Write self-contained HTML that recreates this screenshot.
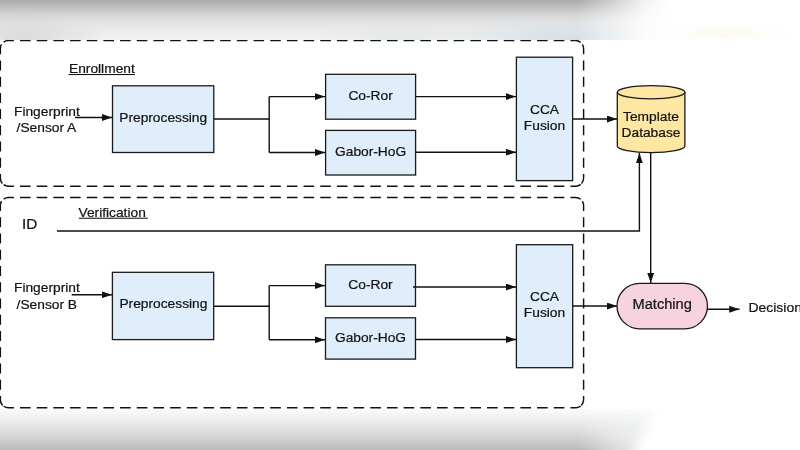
<!DOCTYPE html>
<html><head><meta charset="utf-8">
<style>
html,body{margin:0;padding:0;background:#fff;}
body{width:800px;height:450px;overflow:hidden;position:relative;font-family:"Liberation Sans",sans-serif;}
.band{position:absolute;left:0;width:800px;}
#top{top:0;height:40px;background:radial-gradient(ellipse 85px 26px at 25px 40px,rgba(160,160,160,.28),rgba(160,160,160,0)),radial-gradient(ellipse 130px 24px at 570px 40px,rgba(196,214,226,.65),rgba(196,214,226,0)),radial-gradient(ellipse 90px 18px at 400px 40px,rgba(205,218,226,.35),rgba(205,218,226,0)),linear-gradient(180deg,#ababab 0px,#c2c2c2 8px,#d6d6d6 15px,#e3e3e3 22px,#ebebeb 29px,#eeefef 36px,#f3f3f3 40px);-webkit-mask-image:linear-gradient(90deg,#000 0px,#000 578px,rgba(0,0,0,.55) 615px,rgba(0,0,0,.15) 645px,rgba(0,0,0,0) 670px);}
#topr{position:absolute;top:16px;left:650px;width:150px;height:23px;background:radial-gradient(ellipse 70px 13px at 75px 18px,rgba(250,240,215,.35),rgba(250,240,215,0));}
#bot{top:409px;height:41px;background:linear-gradient(180deg,#fbfbfb 0px,#f3f4f5 10px,#eeeff0 25px,#e9eaeb 41px);-webkit-mask-image:linear-gradient(116deg,#000 0px,#000 580px,rgba(0,0,0,.45) 589px,rgba(0,0,0,0) 597px);}
#bot2{top:409px;height:41px;background:linear-gradient(180deg,#fbfbfb 0px,#f6f6f6 4px,#efefef 10px,#e5e5e5 17px,#d9d9d9 25px,#cacaca 33px,#bababa 41px);-webkit-mask-image:linear-gradient(90deg,#000 0px,#000 580px,rgba(0,0,0,.6) 600px,rgba(0,0,0,.2) 622px,rgba(0,0,0,0) 642px);}
svg{position:absolute;left:0;top:0;will-change:transform;filter:blur(0.35px);}
text{font-family:"Liberation Sans",sans-serif;font-size:13px;fill:#121212;stroke:#121212;stroke-width:0.22px;}
</style></head>
<body>
<div class="band" id="top"></div><div id="topr"></div>
<div class="band" id="bot"></div><div class="band" id="bot2"></div>
<svg width="800" height="450" viewBox="0 0 800 450">
<defs>
<marker id="ah" viewBox="0 0 10 10" refX="10" refY="5" markerWidth="10.3" markerHeight="7" markerUnits="userSpaceOnUse" orient="auto" preserveAspectRatio="none">
<path d="M0,0 L10,5 L0,10 z" fill="#111"/>
</marker>
</defs>
<g fill="none" stroke="#111" stroke-width="1.45">
<path d="M2.69,42.94 A8,8 0 0 1 8.35,40.60 H575.60 A8,8 0 0 1 581.26,42.94" stroke-dasharray="10.6 6.08" stroke-dashoffset="15.46"/>
<path d="M2.69,183.86 A8,8 0 0 0 8.35,186.20 H575.60 A8,8 0 0 0 581.26,183.86" stroke-dasharray="10.6 6.08" stroke-dashoffset="15.46"/>
<path d="M2.69,42.94 A8,8 0 0 0 0.35,48.60 V178.20 A8,8 0 0 0 2.69,183.86" stroke-dasharray="10.0 6.24" stroke-dashoffset="14.44"/>
<path d="M581.26,42.94 A8,8 0 0 1 583.60,48.60 V178.20 A8,8 0 0 1 581.26,183.86" stroke-dasharray="10.0 6.24" stroke-dashoffset="14.44"/>
<path d="M2.69,199.84 A8,8 0 0 1 8.35,197.50 H575.60 A8,8 0 0 1 581.26,199.84" stroke-dasharray="10.6 6.08" stroke-dashoffset="15.46"/>
<path d="M2.69,405.46 A8,8 0 0 0 8.35,407.80 H575.60 A8,8 0 0 0 581.26,405.46" stroke-dasharray="10.6 6.08" stroke-dashoffset="15.46"/>
<path d="M2.69,199.84 A8,8 0 0 0 0.35,205.50 V399.80 A8,8 0 0 0 2.69,405.46" stroke-dasharray="10.0 6.24" stroke-dashoffset="14.44"/>
<path d="M581.26,199.84 A8,8 0 0 1 583.60,205.50 V399.80 A8,8 0 0 1 581.26,405.46" stroke-dasharray="10.0 6.24" stroke-dashoffset="14.44"/>
</g>
<g fill="#dfeefa" stroke="#1a1a1a" stroke-width="1.3">
<rect x="112.5" y="85.8" width="101.3" height="66.7"/>
<rect x="325.6" y="74.3" width="90" height="44.9"/>
<rect x="325.6" y="130.4" width="90" height="44.6"/>
<rect x="516.4" y="57.2" width="56.2" height="123.4"/>
<rect x="112.4" y="272.3" width="101.3" height="67.3"/>
<rect x="325.5" y="264.8" width="90" height="41.5"/>
<rect x="325.5" y="317.8" width="90" height="41.3"/>
<rect x="516.4" y="244.7" width="56.3" height="123"/>
</g>
<!-- cylinder -->
<g stroke="#1a1a1a" stroke-width="1.3" fill="#fde7a3">
<path d="M617.3,92.2 L617.3,146 A33.8,6.6 0 0 0 684.9,146 L684.9,92.2 A33.8,6.6 0 0 0 617.3,92.2 Z"/>
<path d="M617.3,92.2 A33.8,6.6 0 0 0 684.9,92.2" fill="none"/>
</g>
<rect x="617" y="283.3" width="90.5" height="45.5" rx="22.7" fill="#f7d2df" stroke="#1a1a1a" stroke-width="1.3"/>
<g fill="none" stroke="#111" stroke-width="1.4">
<path d="M75,117.5 H112" marker-end="url(#ah)"/>
<path d="M214,119 H269.2"/>
<path d="M269.2,96.6 V152.5"/>
<path d="M269.2,96.6 H325" marker-end="url(#ah)"/>
<path d="M269.2,152.5 H325" marker-end="url(#ah)"/>
<path d="M415.7,96.6 H516" marker-end="url(#ah)"/>
<path d="M415.7,152.2 H516" marker-end="url(#ah)"/>
<path d="M572.6,119 H617" marker-end="url(#ah)"/>
<path d="M71.7,294.8 H112" marker-end="url(#ah)"/>
<path d="M213.6,306.2 H269.2"/>
<path d="M269.2,285.6 V339.8"/>
<path d="M269.2,285.6 H325" marker-end="url(#ah)"/>
<path d="M269.2,339.8 H325" marker-end="url(#ah)"/>
<path d="M413,287 H516" marker-end="url(#ah)"/>
<path d="M415.5,339.5 H516" marker-end="url(#ah)"/>
<path d="M572.7,306 H617" marker-end="url(#ah)"/>
<path d="M57,231 H639.4 V153" marker-end="url(#ah)"/>
<path d="M650.7,152.7 V283" marker-end="url(#ah)"/>
<path d="M707.5,309.3 H739.5" marker-end="url(#ah)"/>
</g>
<g>
<text transform="translate(69 72.8) scale(1.06 1)">Enrollment</text>
<rect x="68.6" y="74.0" width="66.2" height="1.05" fill="#121212"/>
<text transform="translate(14 115.7) scale(1.06 1)" >Fingerprint</text>
<text transform="translate(16.6 132.2) scale(1.06 1)" >/Sensor A</text>
<text transform="translate(163.2 122) scale(1.06 1)" text-anchor="middle">Preprocessing</text>
<text transform="translate(370.6 100) scale(1.06 1)" text-anchor="middle">Co-Ror</text>
<text transform="translate(370.6 156) scale(1.06 1)" text-anchor="middle">Gabor-HoG</text>
<text transform="translate(544.5 114.4) scale(1.06 1)" text-anchor="middle">CCA</text>
<text transform="translate(544.5 130.2) scale(1.06 1)" text-anchor="middle">Fusion</text>
<text transform="translate(651 120.7) scale(1.06 1)" text-anchor="middle">Template</text>
<text transform="translate(651 136.7) scale(1.06 1)" text-anchor="middle">Database</text>
<text transform="translate(78.5 217.4) scale(1.06 1)">Verification</text>
<rect x="78.8" y="217.7" width="69" height="1.05" fill="#121212"/>
<text transform="translate(21.9 229.2) scale(1.07 1)" style="font-size:14.3px">ID</text>
<text transform="translate(14 291.7) scale(1.06 1)" >Fingerprint</text>
<text transform="translate(16.6 308.8) scale(1.06 1)" >/Sensor B</text>
<text transform="translate(163.4 308.4) scale(1.06 1)" text-anchor="middle">Preprocessing</text>
<text transform="translate(370.5 289.2) scale(1.06 1)" text-anchor="middle">Co-Ror</text>
<text transform="translate(370.5 342) scale(1.06 1)" text-anchor="middle">Gabor-HoG</text>
<text transform="translate(544.5 301.0) scale(1.06 1)" text-anchor="middle">CCA</text>
<text transform="translate(544.5 316.9) scale(1.06 1)" text-anchor="middle">Fusion</text>
<text transform="translate(662.2 308.7) scale(1.06 1)" text-anchor="middle" style="font-size:13.8px">Matching</text>
<text transform="translate(748.4 311.8) scale(1.05 1)" style="font-size:13.3px">Decision</text>
</g>
</svg>
</body></html>
